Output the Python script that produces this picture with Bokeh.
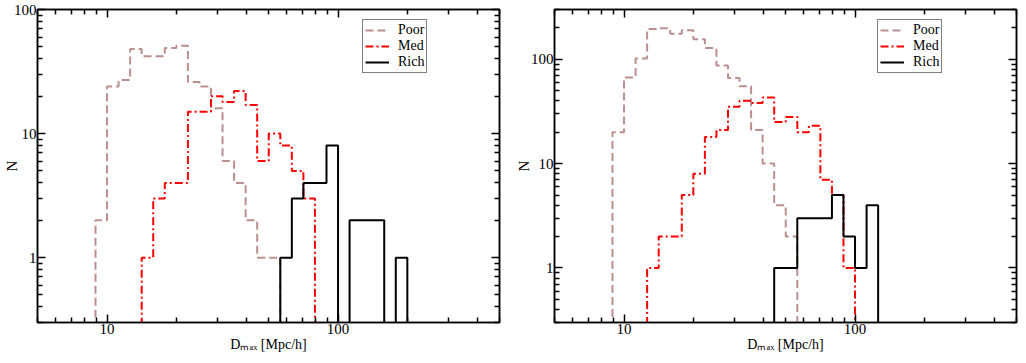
import numpy as np
from bokeh.plotting import figure
from bokeh.models import (FixedTicker, LogAxis, BasicTickFormatter, Legend,
                          LegendItem, Range1d)
from bokeh.layouts import row
from bokeh.embed import file_html
from bokeh.resources import INLINE

# ---------------- data ----------------
BIN_DEX = 0.05  # histogram bin width in log10(D_max)

# left panel
left_poor_start = 0.95
left_poor = [2, 24, 27, 48, 42, 42, 49, 51, 26, 24, 16, 6, 4, 2, 1, 1]
left_med_start = 1.15
left_med = [1, 3, 4, 4, 15, 15, 20, 18, 22, 17, 6, 10, 8, 5, 3]
left_rich_start = 1.75
left_rich = [1, 3, 4, 4, 8, 0, 2, 2, 2, 0, 1]

# right panel
right_poor_start = 0.95
right_poor = [20, 67, 102, 195, 198, 176, 190, 156, 128, 87, 66, 55, 21, 10, 4, 2]
right_med_start = 1.10
right_med = [1, 2, 2, 5, 8, 18, 21, 35, 40, 38, 43, 25, 28, 20, 23, 7, 5, 1]
right_rich_start = 1.65
right_rich = [1, 1, 3, 3, 3, 5, 2, 1, 4]

series_names = ["Poor", "Med", "Rich"]
x_title = "D\u2098\u2090\u2093 [Mpc/h]"
y_title = "N"
x_major = [10, 100]
x_minor = [5, 6, 7, 8, 9, 20, 30, 40, 50, 60, 70, 80, 90, 200, 300, 400, 500]
y_major = [1, 10, 100]
y_minor_left = [0.3, 0.4, 0.5, 0.6, 0.7, 0.8, 0.9, 2, 3, 4, 5, 6, 7, 8, 9,
                20, 30, 40, 50, 60, 70, 80, 90]
y_minor_right = y_minor_left + [200, 300]

FONT = "Liberation Serif"
FLOOR = 1e-3  # empty bins drop below the axis


def step_path(start_log, counts):
    edges = 10 ** (start_log + BIN_DEX * np.arange(len(counts) + 1))
    c = np.array(counts, dtype=float)
    c[c <= 0] = FLOOR
    xs = np.repeat(edges, 2)
    ys = np.concatenate([[FLOOR], np.repeat(c, 2), [FLOOR]])
    return xs, ys


def style_axis(ax, show_labels):
    ax.major_tick_in = 8
    ax.major_tick_out = 0
    ax.minor_tick_in = 5
    ax.minor_tick_out = 0
    ax.major_tick_line_width = 1.5
    ax.minor_tick_line_width = 1.5
    ax.major_tick_line_color = "black"
    ax.minor_tick_line_color = "black"
    ax.axis_line_width = 1.5
    ax.axis_line_color = "black"
    if show_labels:
        ax.major_label_text_font = FONT
        ax.major_label_text_font_size = "15px"
        ax.major_label_text_color = "black"
        ax.major_label_standoff = 1
        ax.formatter = BasicTickFormatter()
        ax.axis_label_text_font = FONT
        ax.axis_label_text_font_style = "normal"
        ax.axis_label_text_color = "black"
    else:
        ax.major_label_text_font_size = "1px"
        ax.major_label_text_color = None
        ax.major_label_standoff = 0


def make_panel(width, ymax, mb_left, mb_right, y_minor, data, leg_x, leg_y,
               ylab_standoff):
    p = figure(width=width, height=355, x_axis_type="log", y_axis_type="log",
               x_range=Range1d(5, 500), y_range=Range1d(0.3, ymax),
               output_backend="svg", toolbar_location=None,
               min_border_left=mb_left, min_border_right=mb_right,
               min_border_top=9, min_border_bottom=33)
    p.grid.visible = False
    p.outline_line_color = "black"
    p.outline_line_width = 1.5
    p.background_fill_color = "white"
    p.border_fill_color = "white"

    xt = FixedTicker(ticks=x_major, minor_ticks=x_minor)
    yt = FixedTicker(ticks=y_major, minor_ticks=y_minor)
    p.xaxis.ticker = xt
    p.yaxis.ticker = yt
    style_axis(p.xaxis[0], True)
    style_axis(p.yaxis[0], True)
    p.xaxis.axis_label = x_title
    p.xaxis.axis_label_text_font_size = "14px"
    p.xaxis.axis_label_standoff = 0
    p.yaxis.axis_label = y_title
    p.yaxis.axis_label_text_font_size = "15px"
    p.yaxis.axis_label_standoff = ylab_standoff

    top = LogAxis(ticker=xt)
    style_axis(top, False)
    p.add_layout(top, "above")
    right = LogAxis(ticker=yt)
    style_axis(right, False)
    p.add_layout(right, "right")

    (ps, pc), (ms, mc), (rs, rc) = data
    x, y = step_path(ps, pc)
    r_poor = p.line(x, y, line_color="#bc8f8f", line_width=2, line_dash="8 4")
    x, y = step_path(ms, mc)
    r_med = p.line(x, y, line_color="#ff0000", line_width=2, line_dash="8 3 2 3")
    x, y = step_path(rs, rc)
    r_rich = p.line(x, y, line_color="black", line_width=2)

    legend = Legend(items=[LegendItem(label=series_names[0], renderers=[r_poor]),
                           LegendItem(label=series_names[1], renderers=[r_med]),
                           LegendItem(label=series_names[2], renderers=[r_rich])],
                    location=(leg_x, leg_y), orientation="vertical",
                    border_line_color="black", border_line_width=1,
                    background_fill_color="white", background_fill_alpha=1,
                    padding=2, spacing=-9, margin=0,
                    glyph_width=24, glyph_height=12, label_height=12,
                    label_standoff=9, label_text_font=FONT,
                    label_text_font_size="14px",
                    label_text_color="black")
    p.add_layout(legend)
    return p


p1 = make_panel(507, 100, 37, 8, y_minor_left,
                [(left_poor_start, left_poor), (left_med_start, left_med),
                 (left_rich_start, left_rich)], 325, 249, -9)
p2 = make_panel(511, 300, 47, 2, y_minor_right,
                [(right_poor_start, right_poor), (right_med_start, right_med),
                 (right_rich_start, right_rich)], 323, 249, -4)

layout = row(p1, p2)
open("out.html", "w").write(file_html(layout, INLINE))
